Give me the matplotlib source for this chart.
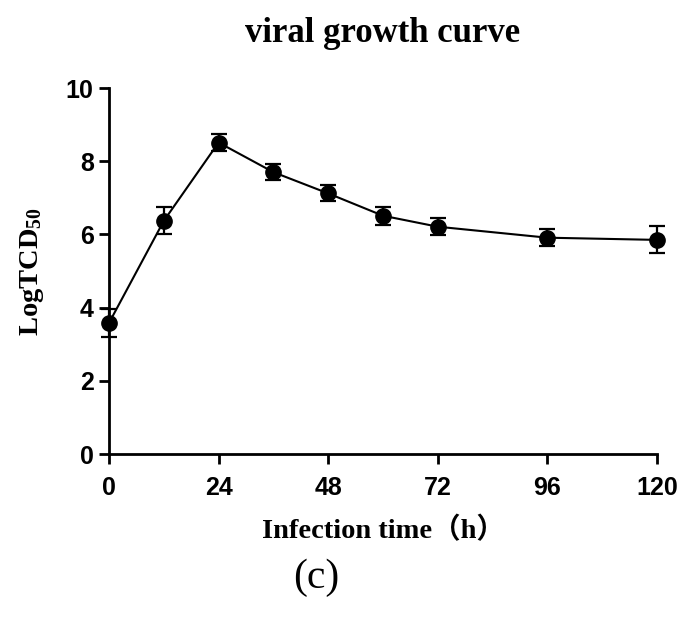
import matplotlib
matplotlib.use("Agg")
import matplotlib.pyplot as plt

plt.rcParams['mathtext.fontset'] = 'custom'
plt.rcParams['mathtext.rm'] = 'Liberation Serif:bold'
plt.rcParams['mathtext.it'] = 'Liberation Serif:bold'
plt.rcParams['mathtext.bf'] = 'Liberation Serif:bold'

hours = [0, 12, 24, 36, 48, 60, 72, 96, 120]
log_tcid50 = [3.58, 6.37, 8.51, 7.70, 7.12, 6.51, 6.21, 5.91, 5.85]
errors = [0.37, 0.37, 0.22, 0.22, 0.22, 0.24, 0.24, 0.24, 0.37]
xticks = [0, 24, 48, 72, 96, 120]
yticks = [0, 2, 4, 6, 8, 10]

fig = plt.figure(figsize=(6.92, 6.22), dpi=100)
ax = fig.add_axes([109/692, 1-454/622, (657-109)/692, (454-88)/622])

ax.errorbar(hours, log_tcid50, yerr=errors, color='black', marker='o',
            markersize=11, linewidth=1.5, elinewidth=1.6, capsize=5.5,
            capthick=1.6, zorder=3, clip_on=False)

ax.set_xlim(0, 120)
ax.set_ylim(0, 10)
ax.set_xticks(xticks)
ax.set_yticks(yticks)
for s in ['top', 'right']:
    ax.spines[s].set_visible(False)
for s in ['left', 'bottom']:
    ax.spines[s].set_linewidth(2.0)
ax.tick_params(width=2.0, length=7, direction='out')
ax.tick_params(axis='x', pad=9)
ax.tick_params(axis='y', pad=4)
for lab in ax.get_xticklabels() + ax.get_yticklabels():
    lab.set_fontfamily('Liberation Sans')
    lab.set_fontweight('bold')
    lab.set_fontsize(18)

ax.set_xlabel('Infection time（h）', family=['Liberation Serif', 'Noto Sans CJK SC'],
              fontweight='bold', fontsize=20.5, labelpad=12)
ax.set_ylabel('LogTCD$_{50}$', family='Liberation Serif', fontweight='bold',
              fontsize=20.5, labelpad=14)

fig.text(383/692, 1-33/622, 'viral growth curve', family='Liberation Serif',
         fontweight='bold', fontsize=25, ha='center', va='center')
fig.text(316/692, 1-578/622, '(c)', family='Liberation Serif',
         fontsize=30, ha='center', va='center')

fig.savefig('out.png', dpi=100)
